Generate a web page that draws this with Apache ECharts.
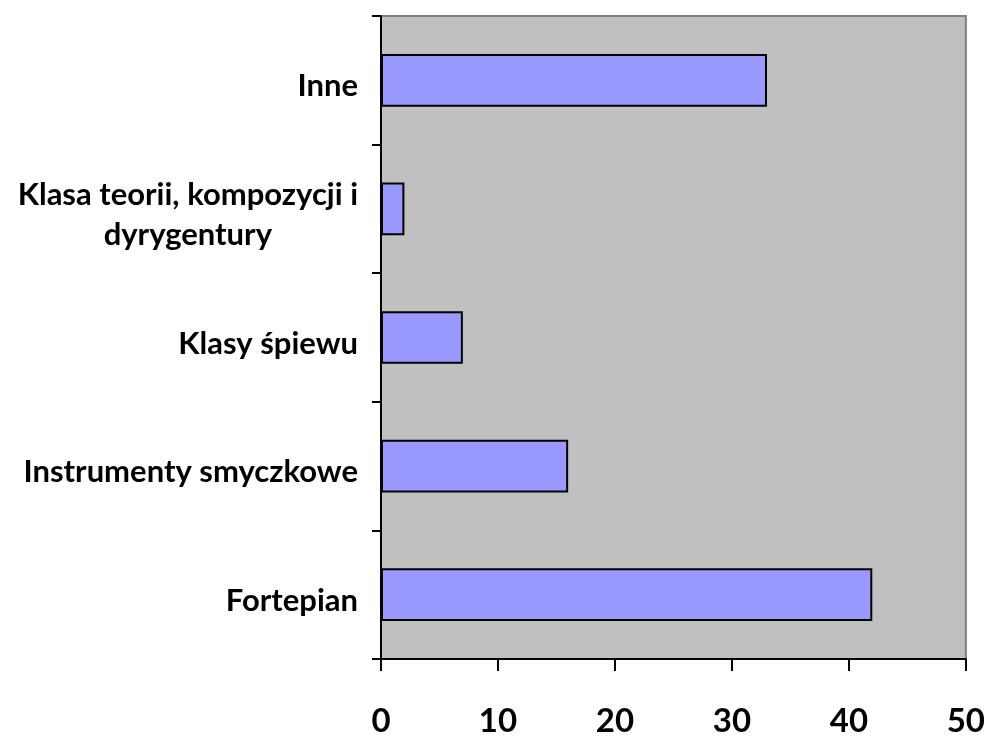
<!DOCTYPE html>
<html>
<head>
<meta charset="utf-8">
<script src="https://cdn.jsdelivr.net/npm/echarts@6/dist/echarts.min.js"></script>
<style>
  html, body { margin: 0; padding: 0; background: #fff; }
  #chart { width: 988px; height: 738px; }
</style>
</head>
<body>
<div id="chart"></div>
<script>
// dane wykresu (od dołu do góry)
var categories = ['Fortepian', 'Instrumenty smyczkowe', 'Klasy śpiewu', 'Klasa teorii, kompozycji i\ndyrygentury', 'Inne'];
var values = [42, 16, 7, 2, 33];
var xTicks = [0, 10, 20, 30, 40, 50];

var myChart = echarts.init(document.getElementById('chart'));
var option = {
  animation: false,
  grid: {
    left: 381,
    right: 21,
    top: 16,
    bottom: 77,
    show: true,
    backgroundColor: '#c0c0c0',
    borderColor: '#808080',
    borderWidth: 2
  },
  xAxis: {
    type: 'value',
    min: xTicks[0],
    max: xTicks[xTicks.length - 1],
    interval: 10,
    axisLine: { show: true, lineStyle: { color: '#000', width: 2 } },
    axisTick: { show: true, inside: false, length: 12, lineStyle: { color: '#000', width: 2 } },
    splitLine: { show: false },
    axisLabel: {
      color: '#000',
      fontFamily: 'Lato',
      fontWeight: 'bold',
      fontSize: 33,
      margin: 46
    }
  },
  yAxis: {
    type: 'category',
    data: categories,
    axisLine: { show: true, lineStyle: { color: '#000', width: 2 } },
    axisTick: { show: true, inside: false, length: 9, alignWithLabel: false, lineStyle: { color: '#000', width: 2 } },
    splitLine: { show: false },
    axisLabel: {
      color: '#000',
      fontFamily: 'Lato',
      fontWeight: 'bold',
      fontSize: 31,
      margin: 23,
      lineHeight: 40,
      padding: [12, 0, 0, 0],
      formatter: function (v) {
        return v.split('\n').map(function (s) { return '{c|' + s + '}'; }).join('\n');
      },
      rich: {
        c: {
          align: 'center',
          color: '#000',
          fontFamily: 'Lato',
          fontWeight: 'bold',
          fontSize: 31,
          lineHeight: 40
        }
      }
    }
  },
  series: [{
    type: 'bar',
    data: values,
    barWidth: '41%',
    itemStyle: {
      color: '#9999ff',
      borderColor: '#000',
      borderWidth: 2
    }
  }]
};
myChart.setOption(option);
window.addEventListener('resize', function () {
  myChart.resize();
});
</script>
</body>
</html>
